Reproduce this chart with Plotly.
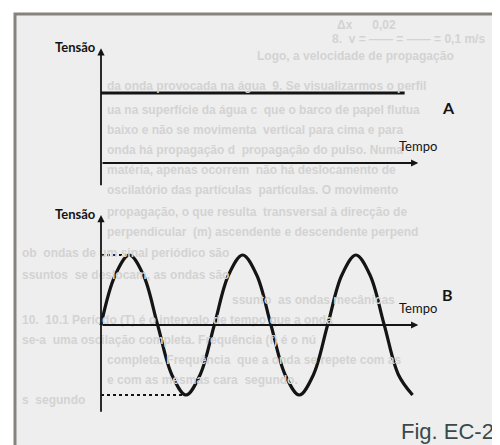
import plotly.graph_objects as go

# ---------------- data ----------------
# Graph A: constant tension over time
tempo_A = [0.0, 2.68]
tensao_A = [1.0, 1.0]

# Graph B: alternating tension (values read every eighth of a period)
tempo_B = [0, 0.125, 0.25, 0.375, 0.5, 0.625, 0.75, 0.875,
           1.0, 1.125, 1.25, 1.375, 1.5, 1.625, 1.75, 1.875,
           2.0, 2.125, 2.25, 2.375, 2.5, 2.625, 2.75]
tensao_B = [0, 0.71, 1, 0.71, 0, -0.71, -1, -0.71,
            0, 0.71, 1, 0.71, 0, -0.71, -1, -0.71,
            0, 0.71, 1, 0.71, 0, -0.71, -1]

# dotted amplitude guides in graph B
guia_max_t = [0, 0.25]
guia_max_v = [1, 1]
guia_min_t = [0, 0.75]
guia_min_v = [-1, -1]

# axis extents
eixo_tempo = [0, 2.8]
eixo_tensao_A = [-0.34, 1.64]
eixo_tensao_B = [-1.26, 1.57]

# labels
rotulo_y = "Tensão"
rotulo_x = "Tempo"
rotulo_A = "A"
rotulo_B = "B"
legenda_fig = "Fig. EC-2"

# faint show-through text of the scanned page
texto_fundo = [
    (335, 25, "Δx      0,02"),
    (330, 39, "8.  v = —— = —— = 0,1 m/s"),
    (255, 56, "Logo, a velocidade de propagação"),
    (105, 86, "da onda provocada na água  9. Se visualizarmos o perfil"),
    (105, 110, "ua na superfície da água c  que o barco de papel flutua"),
    (105, 130, "baixo e não se movimenta  vertical para cima e para"),
    (105, 150, "onda há propagação d  propagação do pulso. Numa"),
    (105, 170, "matéria, apenas ocorrem  não há deslocamento de"),
    (105, 190, "oscilatório das partículas  partículas. O movimento"),
    (105, 212, "propagação, o que resulta  transversal à direcção de"),
    (105, 232, "perpendicular  (m) ascendente e descendente perpend"),
    (20, 253, "ob  ondas de um sinal periódico são"),
    (20, 275, "ssuntos  se deslocam, as ondas são"),
    (230, 300, "ssunto  as ondas mecânicas"),
    (20, 320, "10.  10.1 Período (T) é o intervalo de tempo que a onda"),
    (20, 340, "se-a  uma oscilação completa. Frequência (f) é o nú"),
    (105, 360, "completa. Frequência  que a onda se repete com as"),
    (105, 380, "e com as mesmas cara  segundo."),
    (20, 400, "s  segundo"),
]

# ---------------- figure ----------------
# the page body keeps an 8 px margin, so the figure is laid out 8 px in
OFF = 8
W, H = 500 - OFF, 445 - OFF
X0_PX, X_SCALE = 101.0 - OFF, 113.3      # pixel of t=0, pixels per time unit
YA0_PX, YB0_PX, Y_SCALE = 163.0 - OFF, 325.0 - OFF, 70.0

x_range = [-X0_PX / X_SCALE, (W - X0_PX) / X_SCALE]
yA_range = [(YA0_PX - H) / Y_SCALE, YA0_PX / Y_SCALE]
yB_range = [(YB0_PX - H) / Y_SCALE, YB0_PX / Y_SCALE]


def px(x):
    return (x - OFF) / W


def py(y):
    return 1 - (y - OFF) / H


INK = "#141414"
fig = go.Figure()

fig.add_trace(go.Scatter(x=tempo_A, y=tensao_A, mode="lines",
                         line=dict(color=INK, width=3.2), yaxis="y",
                         hoverinfo="skip", showlegend=False))

fig.add_trace(go.Scatter(x=guia_max_t, y=guia_max_v, mode="lines",
                         line=dict(color=INK, width=1.8, dash="dot"),
                         yaxis="y2", hoverinfo="skip", showlegend=False))
fig.add_trace(go.Scatter(x=guia_min_t, y=guia_min_v, mode="lines",
                         line=dict(color=INK, width=1.8, dash="dot"),
                         yaxis="y2", hoverinfo="skip", showlegend=False))

fig.add_trace(go.Scatter(x=tempo_B, y=tensao_B, mode="lines",
                         line=dict(color=INK, width=3.2, shape="spline",
                                   smoothing=1),
                         yaxis="y2", hoverinfo="skip", showlegend=False))

annotations = []

# faint background text first (drawn beneath the figure labels)
for (x, y, t) in texto_fundo:
    annotations.append(dict(x=px(x), y=py(y), xref="paper", yref="paper",
                            text=t, showarrow=False, xanchor="left",
                            yanchor="middle",
                            font=dict(family="Liberation Sans", size=12,
                                      color="#d3d3d3", weight="bold")))


def arrow(xh, yh, xt, yt, yref):
    return dict(x=xh, y=yh, ax=xt, ay=yt, xref="x", yref=yref,
                axref="x", ayref=yref, text="", showarrow=True,
                arrowhead=2, arrowsize=0.8, arrowwidth=1.8,
                arrowcolor=INK)


annotations += [
    arrow(0, eixo_tensao_A[1], 0, eixo_tensao_A[0], "y"),
    arrow(eixo_tempo[1], 0, eixo_tempo[0], 0, "y"),
    arrow(0, eixo_tensao_B[1], 0, eixo_tensao_B[0], "y2"),
    arrow(eixo_tempo[1], 0, eixo_tempo[0], 0, "y2"),
]

lab_font = dict(family="Lato", size=13, color=INK, weight="bold")
tempo_font = dict(family="Lato", size=13, color=INK)
letter_font = dict(family="Lato", size=16, color=INK, weight="bold")

for yref, top in (("y", eixo_tensao_A[1]), ("y2", eixo_tensao_B[1])):
    annotations.append(dict(x=0, y=top, xref="x", yref=yref, text=rotulo_y,
                            showarrow=False, xanchor="right",
                            yanchor="middle", xshift=-3, yshift=1,
                            font=lab_font))
    annotations.append(dict(x=eixo_tempo[1], y=0, xref="x", yref=yref,
                            text=rotulo_x, showarrow=False, xanchor="center",
                            yanchor="bottom", yshift=7, font=tempo_font))

annotations.append(dict(x=3.07, y=0.8, xref="x", yref="y", text=rotulo_A,
                        showarrow=False, font=letter_font))
annotations.append(dict(x=3.06, y=0.43, xref="x", yref="y2", text=rotulo_B,
                        showarrow=False, font=letter_font))

annotations.append(dict(x=px(496), y=py(431), xref="paper", yref="paper",
                        text=legenda_fig, showarrow=False, xanchor="right",
                        yanchor="middle",
                        font=dict(family="Liberation Sans", size=22,
                                  color="#3b4949")))

shapes = [
    dict(type="rect", xref="paper", yref="paper", x0=px(15), x1=1.05,
         y0=-0.05, y1=py(14), fillcolor="#eeeeee",
         line=dict(color="#85837c", width=3), layer="below"),
]

fig.update_layout(
    width=W, height=H,
    margin=dict(l=0, r=0, t=0, b=0),
    paper_bgcolor="white", plot_bgcolor="rgba(0,0,0,0)",
    showlegend=False,
    xaxis=dict(range=x_range, visible=False, fixedrange=True),
    yaxis=dict(range=yA_range, visible=False, fixedrange=True),
    yaxis2=dict(range=yB_range, visible=False, fixedrange=True,
                overlaying="y"),
    annotations=annotations,
    shapes=shapes,
)

fig.write_html("out.html")
